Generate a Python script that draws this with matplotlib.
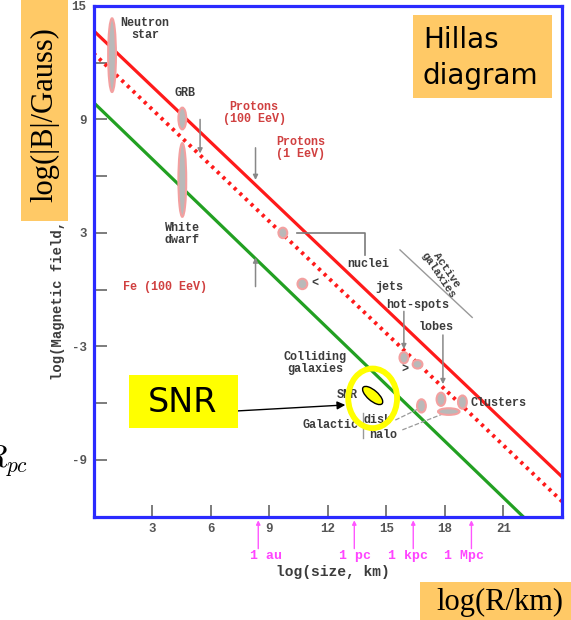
import matplotlib
matplotlib.use('Agg')
import matplotlib.pyplot as plt
from matplotlib.patches import Ellipse, Rectangle

plt.rcParams['mathtext.fontset'] = 'cm'

# ---------------- data ----------------
limit_x = [0, 24]
protons_100EeV_y = [13.7, -9.9]
protons_1EeV_y = [12.5, -11.2]
fe_x = [0, 22.0]
fe_y = [9.9, -12.0]

obj_names = ['Neutron star', 'GRB', 'White dwarf', 'nuclei', 'unknown', 'jets',
             'hot-spots', 'lobes', 'clusters', 'halo', 'disk']
obj_x = [0.95, 4.55, 4.55, 9.7, 10.7, 15.9, 16.6, 17.8, 18.9, 18.2, 16.8]
obj_y = [12.4, 9.05, 5.8, 3.0, 0.3, -3.6, -3.95, -5.8, -5.95, -6.45, -6.15]
obj_w = [0.4, 0.4, 0.4, 0.45, 0.5, 0.45, 0.5, 0.45, 0.45, 1.1, 0.45]
obj_h = [3.9, 1.15, 3.9, 0.55, 0.55, 0.6, 0.45, 0.7, 0.7, 0.35, 0.7]

snr_x, snr_y, snr_w, snr_h = 14.3, -5.6, 1.3, 0.55

labels_black = ['Neutron\nstar', 'GRB', 'White\ndwarf', 'nuclei', 'jets', 'hot-spots',
                'lobes', 'Colliding\ngalaxies', 'Clusters', 'SNR', 'Galactic',
                'disk', 'halo', '<', '>']
labels_black_x = [2.64, 4.69, 4.54, 14.1, 15.15, 16.6, 17.55, 11.36, 20.75, 13.0,
                  12.13, 14.55, 14.85, 11.36, 15.95]
labels_black_y = [13.8, 10.4, 2.95, 1.36, 0.14, -0.8, -1.97, -3.88, -5.99, -5.57,
                  -7.16, -6.9, -7.7, 0.3, -4.25]

labels_red = ['Protons\n(100 EeV)', 'Protons\n(1 EeV)', 'Fe (100 EeV)']
labels_red_x = [8.23, 10.6, 3.67]
labels_red_y = [9.35, 7.5, 0.14]

scale_names = ['1 au', '1 pc', '1 kpc', '1 Mpc']
scale_x = [8.44, 13.36, 16.38, 19.36]
scale_label_x = [8.85, 13.41, 16.13, 19.0]

xticks = [3, 6, 9, 12, 15, 18, 21]
yticks = [-9, -6, -3, 0, 3, 6, 9, 12, 15]
yticklabels = ['-9', '', '-3', '', '3', '', '9', '', '15']

# ---------------- figure ----------------
W, H = 571, 620
fig = plt.figure(figsize=(W / 100, H / 100), dpi=100)


def fx(x):
    return x / W


def fy(y):
    return 1 - y / H


ax = fig.add_axes([fx(93.5), fy(516.5), (562 - 93.5) / W, (516.5 - 6) / H])
ax.set_xlim(0, 24)
ax.set_ylim(-12, 15)

for s in ax.spines.values():
    s.set_color('#2a2aff')
    s.set_linewidth(2.3)

mono = 'Liberation Mono'
gray = '#3c3c3c'

ax.set_xticks(xticks)
ax.set_xticklabels([str(t) for t in xticks])
ax.set_yticks(yticks)
ax.set_yticklabels(yticklabels)
ax.tick_params(direction='in', length=9, width=1.2, color='#666666',
               labelsize=9, labelcolor='#555555', pad=5)
for lab in ax.get_xticklabels() + ax.get_yticklabels():
    lab.set_family(mono)
    lab.set_fontweight('bold')

# limit lines
ax.plot(limit_x, protons_100EeV_y, color='#ff1a1a', lw=2.3, solid_capstyle='butt')
ax.plot(limit_x, protons_1EeV_y, color='#ff1a1a', lw=2.8,
        linestyle=(0, (0.8, 1.2)))
ax.plot(fe_x, fe_y, color='#22a022', lw=2.3)

# objects
for x, y, w, h in zip(obj_x, obj_y, obj_w, obj_h):
    ax.add_patch(Ellipse((x, y), w, h, facecolor='#b9b9b9', edgecolor='#f3a0a0',
                         lw=1.5, zorder=4))

# connector lines
lc = '#7a7a7a'
ax.plot([10.44, 13.92, 13.92], [3.0, 3.0, 1.84], color=lc, lw=1.2)
ax.plot([15.7, 19.4], [2.1, -1.47], color='#999999', lw=1.0)
ax.plot([13.8, 13.8], [-6.55, -7.85], color='#999999', lw=1.0)
ax.plot([15.46, 16.74], [-6.9, -6.26], color='#999999', lw=0.9, ls='--')
ax.plot([15.82, 18.03], [-7.42, -6.52], color='#999999', lw=0.9, ls='--')

arrows = [((5.46, 9.0), (5.46, 7.2)), ((8.3, 7.5), (8.3, 5.8)),
          ((8.3, 0.16), (8.3, 1.7)), ((15.9, -1.15), (15.9, -3.15)),
          ((17.9, -2.4), (17.9, -5.0))]
for (x0, y0), (x1, y1) in arrows:
    ax.annotate('', xy=(x1, y1), xytext=(x0, y0),
                arrowprops=dict(arrowstyle='-|>', color='#888888', lw=1.1,
                                mutation_scale=7, shrinkA=0, shrinkB=0))

# labels
for t, x, y in zip(labels_black, labels_black_x, labels_black_y):
    ax.text(x, y, t, family=mono, fontweight='bold', fontsize=8.5, color=gray,
            ha='center', va='center', linespacing=1.0, zorder=5)
for t, x, y in zip(labels_red, labels_red_x, labels_red_y):
    ax.text(x, y, t, family=mono, fontweight='bold', fontsize=8.5, color='#d04040',
            ha='center', va='center', linespacing=1.0, zorder=5)
ax.text(17.9, 0.9, 'Active\ngalaxies', family=mono, fontweight='bold', fontsize=8,
        color=gray, ha='center', va='center', rotation=-56, linespacing=1.0)

# distance scale markers below axis
for x, lx, t in zip(scale_x, scale_label_x, scale_names):
    ax.annotate('', xy=(x, -12.2), xytext=(x, -13.7),
                arrowprops=dict(arrowstyle='-|>', color='#ff55ff', lw=1.0,
                                mutation_scale=6, shrinkA=0, shrinkB=0),
                annotation_clip=False)
    ax.text(lx, -14.1, t, family=mono, fontweight='bold', fontsize=9.5,
            color='#ff44ff', ha='center', va='center', clip_on=False)
ax.text(12.25, -14.95, 'log(size, km)', family=mono, fontweight='bold', fontsize=10.5,
        color=gray, ha='center', va='center', clip_on=False)

# SNR highlight
ax.add_patch(Ellipse((snr_x, snr_y), snr_w, snr_h, angle=-42, facecolor='#ffff00',
                     edgecolor='black', lw=1.0, zorder=6))
ax.add_patch(Ellipse((14.3, -5.75), 2.5, 3.15, facecolor='none', edgecolor='#ffff00',
                     lw=4.2, zorder=6))
ax.annotate('', xy=(12.9, -6.1), xytext=(7.3, -6.42),
            arrowprops=dict(arrowstyle='-|>', color='black', lw=1.0,
                            mutation_scale=12, shrinkA=0, shrinkB=0), zorder=7)

# y label (partly hidden under the orange box)
fig.text(fx(58), fy(380), 'log(Magnetic field, gauss)', family=mono, fontweight='bold',
         fontsize=10, color=gray, rotation=90, ha='center', va='bottom', zorder=1)

# overlay boxes
orange = '#ffc966'


def box(x0, y0, x1, y1, color):
    fig.patches.append(Rectangle((fx(x0), fy(y1)), (x1 - x0) / W, (y1 - y0) / H,
                                 transform=fig.transFigure, facecolor=color,
                                 edgecolor='none', zorder=2))


box(21, 0, 68, 221, orange)
fig.text(fx(44.5), fy(115), 'log(|B|/Gauss)', family='Liberation Serif', fontsize=22,
         rotation=90, ha='center', va='center', zorder=3)

box(413, 15, 552, 98, orange)
fig.text(fx(423), fy(40), 'Hillas', family='DejaVu Sans', fontsize=20,
         ha='left', va='center', zorder=3)
fig.text(fx(423), fy(76), 'diagram', family='DejaVu Sans', fontsize=20,
         ha='left', va='center', zorder=3)

box(129, 375, 238, 428, '#ffff00')
fig.text(fx(183), fy(402), 'SNR', family='DejaVu Sans', fontsize=24,
         ha='center', va='center', zorder=3)

box(420, 582, 571, 620, orange)
fig.text(fx(500), fy(602), 'log(R/km)', family='Liberation Serif', fontsize=22,
         ha='center', va='center', zorder=3)

fig.text(fx(-17), fy(467), r'$R_{pc}$', fontsize=22, ha='left', va='baseline')

fig.savefig('out.png', dpi=100)
